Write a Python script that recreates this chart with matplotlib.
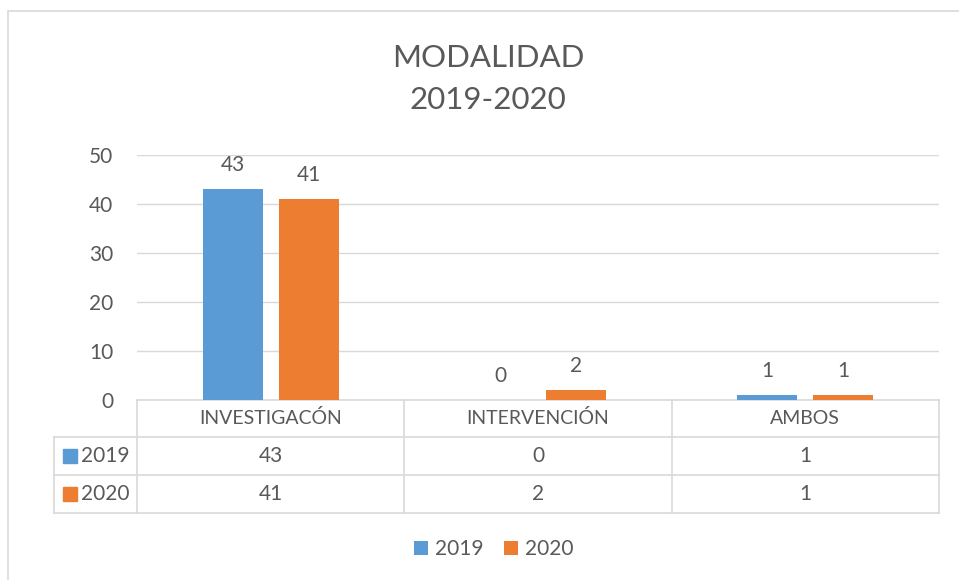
import matplotlib.pyplot as plt
import matplotlib.transforms as mtransforms
from matplotlib.patches import Rectangle

plt.rcParams['font.family'] = ['Lato', 'DejaVu Sans']

categories = ['INVESTIGACÓN', 'INTERVENCIÓN', 'AMBOS']
series_names = ['2019', '2020']
values_2019 = [43, 0, 1]
values_2020 = [41, 2, 1]
colors = ['#5B9BD5', '#ED7D31']
yticks = [0, 10, 20, 30, 40, 50]

txt = '#595959'
line = '#D9D9D9'

W, H = 959, 580
fig = plt.figure(figsize=(W / 100, H / 100), dpi=100)

# outer chart frame
fig.patches.append(Rectangle((8 / W, -0.1), 1.2, 1 - 11 / H + 0.1, transform=fig.transFigure,
                             fill=False, edgecolor=line, lw=1.2))

left, right, top, bottom = 137, 939, 155, 400
ax = fig.add_axes([left / W, 1 - bottom / H, (right - left) / W, (bottom - top) / H])

x = range(len(categories))
bw = 0.225
off = 0.142
series = [values_2019, values_2020]
bars = []
for i, (vals, c) in enumerate(zip(series, colors)):
    pos = [k + (i * 2 - 1) * off for k in x]
    b = ax.bar(pos, vals, bw, color=c, label=series_names[i], zorder=3)
    bars.append(b)
    for p, v in zip(pos, vals):
        ax.annotate(str(v), (p, v), xytext=(0, 10), textcoords='offset points',
                    ha='center', va='bottom', fontsize=15, color=txt)

ax.set_xlim(-0.5, len(categories) - 0.5)
ax.set_ylim(0, 50)
ax.set_yticks(yticks)
ax.set_yticklabels([str(t) for t in yticks], fontsize=15, color=txt)
ax.tick_params(axis='y', length=0, pad=17)
ax.set_xticks([])
ax.grid(axis='y', color=line, lw=1, zorder=0)
for s in ax.spines.values():
    s.set_visible(False)

# data table below the plot
trans = mtransforms.blended_transform_factory(ax.transData, ax.transAxes)
ph = bottom - top
row_lines = [0, -37 / ph, -75 / ph, -113 / ph]
key_x = (54 - left) / (right - left)
n = len(categories)
kw = dict(color=line, lw=1.2, clip_on=False)
ax.plot([-0.5, n - 0.5], [row_lines[0]] * 2, transform=trans, **kw)
for yl in row_lines[1:]:
    ax.plot([key_x, 1], [yl, yl], transform=ax.transAxes, **kw)
for k in range(n + 1):
    ax.plot([k - 0.5, k - 0.5], [row_lines[0], row_lines[-1]], transform=trans, **kw)
ax.plot([key_x, key_x], [row_lines[1], row_lines[-1]], transform=ax.transAxes, **kw)

hdr_y = (row_lines[0] + row_lines[1]) / 2
for k, cat in enumerate(categories):
    ax.text(k, hdr_y, cat, transform=trans, ha='center', va='center', fontsize=14, color=txt)
for r, (vals, name, c) in enumerate(zip(series, series_names, colors)):
    yc = (row_lines[r + 1] + row_lines[r + 2]) / 2
    for k, v in enumerate(vals):
        ax.text(k, yc, str(v), transform=trans, ha='center', va='center', fontsize=15, color=txt)
    ax.plot([(69.5 - left) / (right - left)], [yc], marker='s', ms=9.5, color=c,
            transform=ax.transAxes, clip_on=False)
    ax.text((81 - left) / (right - left), yc, name, transform=ax.transAxes,
            ha='left', va='center', fontsize=15, color=txt)

fig.text(488 / W, 1 - 79 / H, 'MODALIDAD\n2019-2020', ha='center', va='center',
         fontsize=22.5, color=txt, linespacing=1.6)

fig.legend(handles=bars, labels=series_names, loc='center', bbox_to_anchor=(494 / W, 1 - 549 / H),
           ncol=2, frameon=False, fontsize=15, labelcolor=txt, handlelength=0.65,
           handleheight=0.65, handletextpad=0.35, columnspacing=1.0)

fig.savefig('out.png', dpi=100, facecolor='white')
